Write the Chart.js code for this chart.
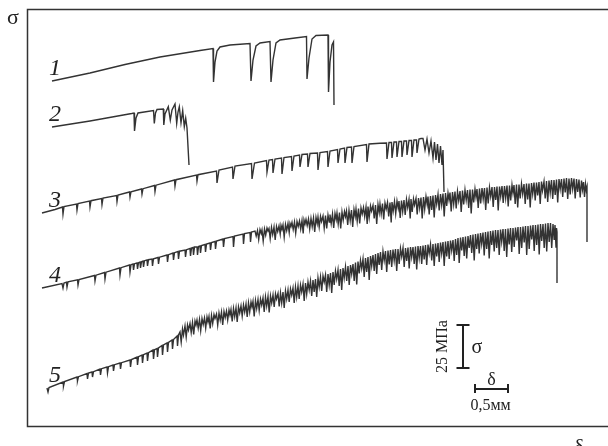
<!DOCTYPE html>
<html>
<head>
<meta charset="utf-8">
<script src="https://cdn.jsdelivr.net/npm/chart.js@4/dist/chart.umd.min.js"></script>
<style>
  body { margin: 0; background: #fff; }
  canvas { display: block; }
</style>
</head>
<body>
<canvas id="curves" width="608" height="446"></canvas>
<script>
// stress-strain curves, points as [strain, stress] in display units
// (vertical offsets between curves are for display only)
const curveNames = ['1', '2', '3', '4', '5'];

const curve1 = [
  [25,346],[63,354],[98,362.5],[133,370],[173,376.5],[186,378.5],[186.5,345],[188,365],[190,376],
  [193,380],[203,382],[223,383.5],[224,346],[226,367],[229,381],[233,384],[243,385.5],[244,345],
  [246,367],[249,384],[253,387],[268,389],[279.5,390.5],[280,348],[282,369],[285,388],[289,391.5],
  [301,392],[301.5,335],[303,365],[305,382],[306.5,385],[307,322]
];

const curve2 = [
  [25,300],[63,306],[104.7,313.5],[107,314],[107.5,296],[109,309],[111,314],[126.5,316.5],
  [127.3,303.5],[128.5,314],[130,317.5],[136.3,318],[136.8,302],[138,313],[141.3,320.3],[143.3,307],
  [145,317],[148,323],[149.7,303.7],[151,315],[152.3,320.3],[154,304.3],[155.7,316.3],[157.3,300.3],
  [158.7,308.7],[160,299],[162,262]
];

const curve3 = [
  [15,214],[28,217.5],[35.5,220],[36,213],[37,220.5],[49.5,223],[50,217],[51,223.5],
  [62.5,226],[63,220],[64,226.3],[74.5,228.5],[75,222.5],[76,229],[89.5,231.5],[90,225.5],[91,232],
  [102.5,235],[103,230],[104,235.3],[114.5,238],[115,233],[116,238.3],[127.5,241.5],[128,235.5],
  [129,241.8],[147.5,247],[148,241],[149,247.3],[169.5,252],[170,246],[171,252.3],[189.5,256],
  [190,244],[192,257],[205.5,260],[206,248],[208,261],[224.5,263.5],[225,248],[227.5,264],
  [239.5,266.5],[240,255],[242,267],[245.5,267.5],[246,254],[248,268],[254.5,269],[255,253],
  [257,269.5],[264.5,270.5],[265,256],[267,271],[272.5,272],[273,260],[275,272.5],[280.5,273],
  [281,260],[283,273.5],[290.5,274],[291,257],[293,274.5],[300.5,275.5],[301,260],[303,276],
  [310.5,277.5],[311,264],[313,278],[317.5,279],[318,264],[320,279.5],[324.5,280],[325,264],
  [327,280.5],[339.5,282.5],[340,265],[342,283],[353,283.7],[359.5,284],[360,268],[362,284.5],
  [364.5,284.5],[365,269],[367,285],[369.5,285],[370,270],[372,285.5],[374.5,285.5],[375,270],
  [377,286],[379.5,286],[380,272],[382,286.5],[384.5,286.5],[385,270],[387,287],[389.5,287],
  [390,274],[392,288],[394,288.5],[396,288.5],[398,277],[400,288],[402,274],[404,286],[406,269],
  [407.5,285],[409,267],[410.5,283],[412,264],[413.5,281],[415,262],[416,277],[417,235]
];

const curve4 = [
  [15,139],[35,143.5],[36,139],[37,144],[39.5,144.8],[40,140],[41,145.2],[50.5,147.2],[51,142],
  [52,147.5],[67.5,151.5],[68,146],[69,151.8],[77.5,154.5],[78,148],[79,154.8],[92.5,159],[93,152],
  [94,159.3],[102.5,162],[103,155],[104,162.3],[106,163],[106.5,157],[107.5,163.3],[110,164],
  [110.5,158],[111.5,164.3],[113,165],[113.5,159],[114.5,165.3],[116,166],[116.5,160],[117.5,166.3],
  [120,167],[120.5,161],[121.5,167.3],[125,168],[125.5,161],[126.5,168.3],[131,169.5],[131.5,163],
  [132.5,169.8],[140,172],[140.5,165],[141.5,172.3],[146,174],[146.5,167],[147.5,174.3],[151,175.5],
  [151.5,168],[152.5,175.8],[158,177],[158.5,170],[159.5,177.3],[163,178.5],[163.5,171],[164.5,179],
  [166,179.5],[166.5,172],[167.5,180],[170,180],[170.5,172],[171.5,180.5],[173,181],[173.5,174],
  [174.5,181.5],[178,182.5],[178.5,175],[179.5,183],[183,184],[183.5,177],[184.5,184.5],[188,185.5],
  [188.5,178],[189.5,186],[196,188],[196.5,180],[197.5,188.5],[206,190.5],[206.5,180],[207.5,191],
  [216,193],[216.5,183],[217.5,193.5],[223,194.5],[223.5,185],[224.5,195],
  [228,196],[229.2,191],[230.5,196.5],[231.7,187.5],[233,197.5],[234.2,193.5],[235,197],[236.2,186],
  [237.5,198],[238.7,192],[240,199],[241,196],[242,198.5],[243.2,188.5],[244.5,199.5],[245.7,192.5],
  [247,200],[248.2,187],[249.5,200.5],[250.7,195.5],[252,201],[253.2,193],[254,201.5],[255,197.5],
  [256,202],[257.2,190],[258.5,202.5],[259.7,196.5],[261,203.5],[262.2,194.5],[263,203.5],[264,200.5],
  [265,204.5],[266.2,197.5],[267.5,205],[268.7,194],[270,205.5],[271.2,200.5],[272.5,206],[273.7,198],
  [275,206.5],[276.2,193.5],[277,207],[278,203],[279,207.5],[280.2,201.5],[281.5,208],[282.7,198],
  [284,208.5],[285.2,200.5],[286.5,209],[287.7,195],[289,209.5],[290.2,203.5],[291,210],[292.2,200],
  [293.5,210.5],[294.5,205.5],[296,211],[297.2,199],[298.5,211.5],[299.7,198.5],[301,212],[302.2,205],
  [303,212.5],[304.2,203.5],[305.5,213],[306.7,199],[308,213.5],[309.2,207.5],[310,214],[311.2,203],
  [312.5,214.5],[313.7,198.5],[315,215],[316.2,207],[317.5,215.5],[318.5,210.5],[319.5,216],[320.7,202],
  [322,216.5],[323.2,206.5],[324.5,217],[325.7,200],[327,217.5],[328.2,210.5],[329,218],[330.2,206],
  [331.5,218.5],[332.7,203.5],[334,219],[335.2,213],[336.5,219.5],[337.7,210.5],[339,220],[340.2,203],
  [341,220.5],[342.2,209.5],[343.5,221],[344.5,216],[346,221.5],[347.2,208.5],[348.5,222],[349.7,203],
  [351,222.5],[352.2,214.5],[353,223],[354.2,213],[355.5,223.5],[356.7,207.5],[358,224],[359.2,218],
  [360.5,224.5],[361.7,210.5],[363,224.5],[364.2,204.5],[365,225],[366.2,216],[367.5,225.5],[368.7,213.5],
  [370,226],[371.2,219],[372,226],[373.2,209],[374.5,226.5],[375.7,215.5],[377,227],[378.2,212],
  [379.5,227.5],[380.7,219.5],[382,227.5],[383.2,208.5],[384,228],[385.2,215],[386.5,228],[387.5,222],
  [389,228.5],[390.2,212.5],[391.5,229],[392.7,219],[394,229.5],[395.2,208.5],[396.5,230],[397.7,218],
  [399,230.5],[400.2,222.5],[401,230.5],[402.2,212.5],[403.5,231],[404.7,217],[406,231.5],[407.2,209.5],
  [408.5,232],[409.7,223],[411,232.5],[412.2,216.5],[413.5,233],[414.7,222],[416,233.5],[417.2,210.5],
  [418.5,234],[419.7,221],[421,234],[422,227],[423,234.5],[424.2,215.5],[425.5,235],[426.7,223],
  [428,235.5],[429.2,218.5],[430.5,235.5],[431.7,226.5],[433,236],[434.2,215],[435.5,236.5],[436.7,222.5],
  [438,237],[439.2,227],[440.5,237],[441.7,219],[443,237.5],[444.2,213.5],[445.5,237.5],[446.7,224.5],
  [448,238],[449,230],[450,238],[451.2,219],[452.5,238.5],[453.7,223.5],[455,239],[456.2,228],
  [457.5,239],[458.7,217],[460,239.5],[461.2,223.5],[462.5,239.5],[463.7,230.5],[465,240],[466.2,220],
  [467.5,240],[468.7,227],[470,240.5],[471.2,216.5],[472.5,240.5],[473.7,230.5],[475,241],[476.2,224],
  [477.5,241],[478.7,229],[480,241.5],[481.2,220.5],[482.5,241.5],[483.7,226.5],[485,242],[486,234],
  [487,242],[488.2,223],[489.5,242.5],[490.7,219.5],[492,242.5],[493.2,228.5],[494.5,243],[495.7,233],
  [497,243],[498.2,223],[499.5,243.5],[500.7,227.5],[502,243.5],[503.2,219.5],[504.5,244],[505.7,233],
  [507,244.5],[508.2,226.5],[509.5,244.5],[510.7,231.5],[512,245],[513.2,223],[514.5,245.5],[515.5,236.5],
  [517,245.5],[518.2,228.5],[519.5,246],[520.7,225],[522,246.5],[523.2,234.5],[524.5,247],[525.7,228],
  [527,247],[528.2,232],[529.5,247.5],[530.7,224.5],[532,248],[533.2,238],[534.5,248],[535.7,230],
  [537,248.5],[538.2,234.5],[539.5,249],[540.7,228],[542,248.5],[543.2,232.5],[544.5,249],[545.7,238],
  [547,248.5],[548.2,228.5],[549.5,248],[550.7,235],[552,247.5],[553.2,229.5],[554.5,246.5],[555.5,237.5],
  [556.5,245],[557.5,230],[558.5,243],[559.3,237],[560,240],[560,185]
];

const curve5 = [
  [20,39],[21,35],[22,39.5],[36,45],[36.5,41],[37.5,45.5],[50,50],[50.5,46],[51.5,50.3],
  [60,53.5],[60.5,48],[61.5,54],[65,55],[65.5,50],[66.5,55.3],[73,58],[73.5,52],[74.5,58.3],
  [80,60],[80.5,54],[81.5,60.3],[86,62],[86.5,56],[87.5,62.3],[93,64],[93.5,58],[94.5,64.3],
  [103,67],[103.5,60],[104.5,67.5],[110,70],[110.5,62],[111.5,70.3],[115,72],[115.5,64],[116.5,72.3],
  [120,74],[120.5,66],[121.5,74.3],[126,77],[126.5,68],[127.5,77.3],[130,78.5],[130.5,70],[131.5,79],
  [135,81.5],[135.5,72],[136.5,82],[140,84],[140.5,75],[141.5,84.5],[145,87],[145.5,78],[146.5,87.5],
  [150,91],[150.5,81],[151.5,92],
  [153,95],[154.2,85],[155.5,98],[156.5,92],[158,101],[159.2,90],[160.5,102],[161.5,97],
  [163,103.5],[164.2,94.5],[165.5,104.5],[166.7,92.5],[168,106],[169,102],[170,107],[171.2,99],
  [172.5,107.5],[173.7,96.5],[175,108.5],[176.2,102.5],[177.5,109],[178.7,99],[180,110],[181,105],
  [182,110.5],[183.2,98.5],[184.5,111.5],[185.7,103.5],[187,112.5],[188,108.5],[189.5,113],[190.7,102],
  [192,114],[193.2,107],[194.5,115],[195.7,102],[197,115.5],[198.2,109.5],[199.5,116],[200.7,107],
  [202,117],[203,112],[204,117.5],[205.2,105.5],[206.5,118.5],[207.7,110.5],[209,119],[210.2,105],
  [211.5,120],[212.7,114],[214,121],[215.2,111],[216.5,122],[217.7,115],[219,123],[220.2,110],
  [221.5,124],[222.7,115],[224,125],[225,120],[226,125.5],[227.2,110.5],[228.5,126.5],[229.7,118.5],
  [231,127.5],[232.2,116.5],[233.5,128],[234.7,122],[236,129],[237.2,115],[238.5,130],[239.7,121],
  [241,130.5],[242.2,114.5],[243.5,131],[244.7,124],[246,132],[247.2,120],[248.5,133],[249.5,128],
  [251,133.5],[252.2,120.5],[253.5,134],[254.7,124],[256,135],[257.2,119],[258.5,136],[259.7,128],
  [261,137],[262.2,125],[263.5,138],[264.7,132],[266,139],[267.2,124],[268.5,140],[269.7,130],
  [271,141],[272.2,128],[273.5,142],[274.7,135],[276,143],[277.2,126],[278.5,144],[279.7,133],
  [281,145],[282.2,137],[283.5,146],[284.7,131],[286,147],[287.2,135],[288.5,148],[289.7,130],
  [291,149],[292.2,140],[293.5,150],[294.7,136],[296,151],[297.2,145],[298.5,152],[299.7,135],
  [301,153],[302.2,142],[303.5,154],[304.7,134],[306,155],[307.2,142],[308.5,156],[309.7,148],
  [311,157],[312.2,141],[313.5,158],[314.7,137],[316,159],[317.2,149],[318.5,160],[319.7,146],
  [321,161],[322.2,142],[323.5,162],[324.7,153],[326,163],[327.2,146],[328.5,164.5],[329.7,142.5],
  [331,165.5],[332.2,153.5],[333.5,166.5],[334.7,158.5],[336,168],[337.2,150],[338.5,169],[339.7,155],
  [341,170],[342.2,147],[343.5,171],[344.7,161],[346,172],[347.2,156],[348.5,173],[349.7,153],
  [351,174],[352.2,162],[353.5,175],[354.7,157],[356,175.5],[357.2,166.5],[358.5,176],[359.7,155],
  [361,176.5],[362.2,162.5],[363.5,177],[364.7,160],[366,177.5],[367.2,166.5],[368.5,178],[369.7,156],
  [371,178],[372.2,163],[373.5,178.5],[374.7,170.5],[376,179],[377.2,160],[378.5,179],[379.7,166],
  [381,179.5],[382.2,158.5],[383.5,180],[384.7,170],[386,180],[387.2,163],[388.5,180.5],[389.7,157.5],
  [391,181],[392.2,169],[393.5,181],[394.7,163],[396,181.5],[397.2,167.5],[398.5,182],[399.7,162],
  [401,182.5],[402.2,173.5],[403.5,182.5],[404.7,166.5],[406,183],[407.2,161],[408.5,183.5],[409.7,170.5],
  [411,184],[412.2,165],[413.5,184.5],[414.7,173.5],[416,185],[417.2,161],[418.5,185.5],[419.7,170.5],
  [421,186],[422.2,168],[423.5,186.5],[424.7,176.5],[426,187],[427.2,166],[428.5,188],[429.7,172],
  [431,189],[432.2,164],[433.5,189.5],[434.7,176.5],[436,190],[437.2,171],[438.5,190.5],[439.7,168.5],
  [441,191],[442.2,179],[443.5,192],[444.7,174],[446,192.5],[447.2,166.5],[448.5,193],[449.7,178],
  [451,193.5],[452.2,173.5],[453.5,194],[454.7,183],[456,194.5],[457.2,171.5],[458.5,195],[459.7,178],
  [461,195.5],[462.2,168.5],[463.5,196],[464.7,182],[466,196.5],[467.2,175.5],[468.5,197],[469.7,179],
  [471,197],[472.2,172],[473.5,197.5],[474.7,185.5],[476,198],[477.2,176],[478.5,198],[479.7,170],
  [481,198.5],[482.2,182.5],[483.5,199],[484.7,175],[486,199],[487.2,180],[488.5,199.5],[489.7,186.5],
  [491,200],[492.2,173],[493.5,200],[494.7,179],[496,200.5],[497.2,184.5],[498.5,201],[499.7,172],
  [501,201],[502.2,178],[503.5,201.5],[504.7,187.5],[506,202],[507.2,176],[508.5,202],[509.7,182],
  [511,202.5],[512.2,172.5],[513.5,203],[514.7,186],[516,203],[517.2,179],[518.5,203.5],[519.7,175.5],
  [521,204],[522.2,185],[523.5,204],[524.7,179],[526,203],[527.2,187],[528,202],[529,180],
  [529.5,199],[530,195],[530,144]
];

const curves = [curve1, curve2, curve3, curve4, curve5];

// scale bars: 25 MPa of stress and 0.5 mm of elongation, in display units
const sigmaBarMPa = 25;
const sigmaBarLen = 43;
const deltaBarMm = 0.5;
const deltaBarLen = 33;

const serif = '"Liberation Serif", "DejaVu Serif", serif';

// left / top / bottom frame, the right side runs off the canvas
const framePlugin = {
  id: 'frame',
  beforeDatasetsDraw(chart) {
    const { ctx, chartArea: a } = chart;
    ctx.save();
    ctx.strokeStyle = '#333';
    ctx.lineWidth = 1.5;
    ctx.beginPath();
    ctx.moveTo(chart.width, a.top + 0.5);
    ctx.lineTo(a.left + 0.5, a.top + 0.5);
    ctx.lineTo(a.left + 0.5, a.bottom - 0.5);
    ctx.lineTo(chart.width, a.bottom - 0.5);
    ctx.stroke();
    ctx.restore();
  }
};

const labelsPlugin = {
  id: 'labels',
  afterDraw(chart) {
    const { ctx, chartArea: a } = chart;
    const xs = chart.scales.x, ys = chart.scales.y;
    ctx.save();
    ctx.fillStyle = '#222';
    ctx.strokeStyle = '#222';

    // axis letters
    ctx.textAlign = 'center';
    ctx.textBaseline = 'middle';
    ctx.font = '22px ' + serif;
    ctx.fillText('σ', 13, a.top + 9);
    ctx.textBaseline = 'alphabetic';
    ctx.fillText('δ', 579, a.bottom + 27);

    // curve numbers
    ctx.font = 'italic 24px ' + serif;
    curves.forEach((c, i) => {
      const py = ys.getPixelForValue(c[0][1]);
      ctx.fillText(curveNames[i], 55, py - 6);
    });

    // stress scale bar
    const sx = xs.getPixelForValue(436);
    const sy0 = ys.getPixelForValue(59);
    const sy1 = ys.getPixelForValue(59 + sigmaBarLen);
    ctx.lineWidth = 2;
    ctx.beginPath();
    ctx.moveTo(sx, sy0); ctx.lineTo(sx, sy1);
    ctx.moveTo(sx - 6.5, sy0); ctx.lineTo(sx + 6.5, sy0);
    ctx.moveTo(sx - 6.5, sy1); ctx.lineTo(sx + 6.5, sy1);
    ctx.stroke();
    ctx.font = '20px ' + serif;
    ctx.textBaseline = 'middle';
    ctx.fillText('σ', sx + 14, (sy0 + sy1) / 2 + 1);
    ctx.save();
    ctx.translate(sx - 20, (sy0 + sy1) / 2);
    ctx.rotate(-Math.PI / 2);
    ctx.font = '16px ' + serif;
    ctx.fillText(sigmaBarMPa + ' МПа', 0, 0);
    ctx.restore();

    // elongation scale bar
    const dx0 = xs.getPixelForValue(448);
    const dx1 = xs.getPixelForValue(448 + deltaBarLen);
    const dy = ys.getPixelForValue(38);
    ctx.beginPath();
    ctx.moveTo(dx0, dy); ctx.lineTo(dx1, dy);
    ctx.moveTo(dx0, dy - 5); ctx.lineTo(dx0, dy + 4);
    ctx.moveTo(dx1, dy - 5); ctx.lineTo(dx1, dy + 4);
    ctx.stroke();
    ctx.font = '18px ' + serif;
    ctx.fillText('δ', (dx0 + dx1) / 2, dy - 9);
    ctx.font = '16px ' + serif;
    ctx.fillText(String(deltaBarMm).replace('.', ',') + 'мм', (dx0 + dx1) / 2 - 1, dy + 17);
    ctx.restore();
  }
};

const ctx = document.getElementById('curves').getContext('2d');
new Chart(ctx, {
  type: 'line',
  data: {
    datasets: curves.map(c => ({
      data: c.map(p => ({ x: p[0], y: p[1] })),
      borderColor: '#333',
      borderWidth: 1.4,
      pointRadius: 0,
      tension: 0,
      fill: false
    }))
  },
  options: {
    responsive: false,
    animation: false,
    devicePixelRatio: 1,
    layout: { padding: { left: 27, top: 9, right: 0, bottom: 19 } },
    plugins: { legend: { display: false }, tooltip: { enabled: false } },
    scales: {
      x: { type: 'linear', display: false, min: 0, max: 581 },
      y: { display: false, min: 0, max: 418 }
    }
  },
  plugins: [framePlugin, labelsPlugin]
});
</script>
</body>
</html>
